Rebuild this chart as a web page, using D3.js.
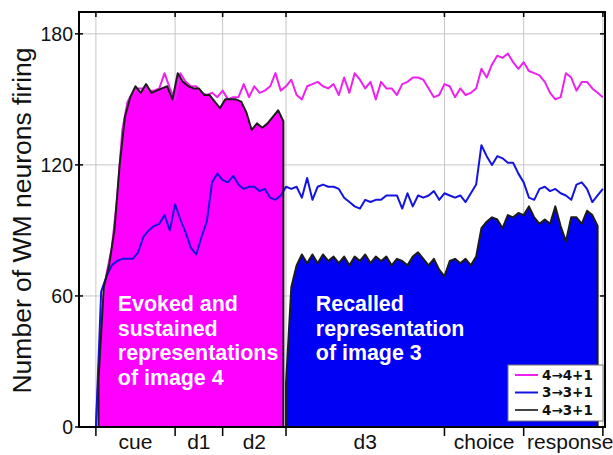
<!DOCTYPE html>
<html>
<head>
<meta charset="utf-8">
<script src="https://cdnjs.cloudflare.com/ajax/libs/d3/7.8.5/d3.min.js"></script>
<style>
  body { margin: 0; background: #fff; }
  svg { display: block; font-family: "Liberation Sans", Arial, Helvetica, sans-serif; }
  .grid line { stroke: #c6c6c6; stroke-width: 1; }
  .tick-mark { stroke: #000; stroke-width: 1.5; }
  .y-tick-label { font-size: 19.5px; fill: #111; }
  .phase-label { font-size: 21px; fill: #111; }
  .y-title { font-size: 26.5px; fill: #111; }
  .note { font-size: 21.4px; font-weight: bold; fill: #fff; }
  .legend-label { font-family: "DejaVu Sans", sans-serif; font-size: 13.5px; font-weight: bold; fill: #111; }
</style>
</head>
<body>
<div id="wrapper"></div>
<script>
// phases of the trial (time in samples)
const phaseNames = ["cue", "d1", "d2", "d3", "choice", "response"]
const phaseBounds = [0, 30, 48, 72, 132, 162, 192]
const yTickValues = [0, 60, 120, 180]
const sampleStep = 2

// 4 -> 4+1 and 3 -> 3+1, sampled from t = 0
const lineStart = 0
const line44 = [
  0, 50, 70, 82, 104, 136, 149, 153, 155, 155,
  154, 154, 155, 162, 155, 150, 162, 158, 156, 156,
  153, 152, 153, 151, 154, 150, 151, 151, 157, 151,
  156, 153, 154, 156, 162, 154, 156, 159, 152, 150,
  156, 157, 158, 156, 155, 157, 152, 160, 153, 162,
  159, 155, 158, 150, 158, 155, 155, 152, 157, 158,
  160, 160, 159, 155, 151, 152, 157, 156, 151, 155,
  152, 153, 155, 164, 160, 166, 170, 169, 171, 167,
  164, 167, 163, 162, 161, 158, 153, 150, 151, 162,
  160, 154, 158, 158, 155, 153, 151,
]
const line33 = [
  0, 62, 69, 74, 76, 77, 77, 77, 80, 87,
  90, 92, 93, 97, 90, 102, 95, 89, 82, 79,
  87, 94, 112, 116, 113, 112, 115, 111, 109, 110,
  110, 108, 109, 105, 104, 106, 110, 109, 110, 105,
  114, 104, 110, 111, 110, 110, 109, 105, 103, 101,
  100, 104, 103, 104, 104, 106, 106, 106, 100, 107,
  101, 106, 105, 106, 108, 104, 107, 106, 105, 106,
  103, 107, 111, 129, 124, 120, 124, 123, 121, 121,
  116, 112, 105, 104, 109, 110, 108, 109, 107, 106,
  104, 111, 112, 109, 103, 106, 109,
]

// 4 -> 3+1: evoked part (image 4) then recalled part (image 3)
const evokedStart = 1
const evoked43 = [
  22, 64, 74, 90, 120, 142, 151, 156, 153, 157,
  153, 154, 155, 156, 150, 162, 158, 156, 155, 155,
  152, 152, 149, 146, 150, 150, 150, 149, 144, 136,
  139, 137, 139, 142, 145, 140,
]
const recalledStart = 72
const recalled43 = [
  20, 64, 74, 79, 75, 79, 75, 79, 76, 78,
  75, 78, 74, 78, 76, 79, 75, 78, 76, 78,
  74, 77, 76, 74, 78, 80, 77, 74, 77, 72,
  69, 76, 77, 75, 77, 74, 78, 91, 94, 96,
  95, 91, 97, 96, 98, 97, 101, 96, 93, 95,
  93, 101, 92, 85, 96, 96, 93, 99, 97, 92,
]

const legendLabels = ["4\u21924+1", "3\u21923+1", "4\u21923+1"]
const evokedNote = ["Evoked and", "sustained", "representations", "of image 4"]
const recalledNote = ["Recalled", "representation", "of image 3"]

function drawChart() {
  let dimensions = {
    width: 613,
    height: 455,
    margin: {
      top: 12,
      right: 8,
      bottom: 28,
      left: 79,
    },
  }
  dimensions.boundedWidth = dimensions.width
    - dimensions.margin.left
    - dimensions.margin.right
  dimensions.boundedHeight = dimensions.height
    - dimensions.margin.top
    - dimensions.margin.bottom

  const colors = {
    magenta: "#ff00ff",
    magentaLine: "#ee22ee",
    blue: "#0000f4",
    blueLine: "#1414e0",
    outline: "#1c1c1c",
  }

  const toPoints = (values, start) => values.map((v, i) => ({ t: start + i * sampleStep, v }))
  const tAccessor = d => d.t
  const vAccessor = d => d.v

  const xScale = d3.scaleLinear()
    .domain([-6.4, 192.8])
    .range([0, dimensions.boundedWidth])
  const yScale = d3.scaleLinear()
    .domain([0, 190])
    .range([dimensions.boundedHeight, 0])

  const wrapper = d3.select("#wrapper")
    .append("svg")
      .attr("width", dimensions.width)
      .attr("height", dimensions.height)

  const bounds = wrapper.append("g")
      .attr("transform", `translate(${dimensions.margin.left},${dimensions.margin.top})`)

  // grid
  const grid = bounds.append("g").attr("class", "grid")
  grid.selectAll(".h")
    .data(yTickValues.filter(d => d > 0))
    .enter().append("line")
      .attr("x1", 0)
      .attr("x2", dimensions.boundedWidth)
      .attr("y1", d => yScale(d))
      .attr("y2", d => yScale(d))
  grid.selectAll(".v")
    .data(phaseBounds)
    .enter().append("line")
      .attr("x1", d => xScale(d))
      .attr("x2", d => xScale(d))
      .attr("y1", 0)
      .attr("y2", dimensions.boundedHeight)

  const evokedPoints = toPoints(evoked43, evokedStart)
  const recalledPoints = toPoints(recalled43, recalledStart)

  const areaGenerator = d3.area()
    .x(d => xScale(tAccessor(d)))
    .y0(yScale(0))
    .y1(d => yScale(vAccessor(d)))

  bounds.append("path")
      .attr("d", areaGenerator(evokedPoints))
      .attr("fill", colors.magenta)
  bounds.append("path")
      .attr("d", areaGenerator(recalledPoints))
      .attr("fill", colors.blue)

  const lineGenerator = d3.line()
    .x(d => xScale(tAccessor(d)))
    .y(d => yScale(vAccessor(d)))

  bounds.append("path")
      .attr("d", lineGenerator(toPoints(line44, lineStart)))
      .attr("fill", "none")
      .attr("stroke", colors.magentaLine)
      .attr("stroke-width", 2)
      .attr("stroke-linejoin", "round")
  bounds.append("path")
      .attr("d", lineGenerator(toPoints(line33, lineStart)))
      .attr("fill", "none")
      .attr("stroke", colors.blueLine)
      .attr("stroke-width", 2)
      .attr("stroke-linejoin", "round")

  // black outline of 4 -> 3+1
  ;[evokedPoints, recalledPoints].forEach(points => {
    bounds.append("path")
        .attr("d", areaGenerator(points))
        .attr("fill", "none")
        .attr("stroke", colors.outline)
        .attr("stroke-width", 2)
        .attr("stroke-linejoin", "round")
  })

  // notes inside the areas
  const addNote = (lines, t, v) => {
    const note = bounds.append("text")
        .attr("class", "note")
        .attr("x", xScale(t))
        .attr("y", yScale(v))
    note.selectAll("tspan")
      .data(lines)
      .enter().append("tspan")
        .attr("x", xScale(t))
        .attr("dy", (d, i) => i == 0 ? 0 : 24.5)
        .text(d => d)
  }
  addNote(evokedNote, 8.3, 53)
  addNote(recalledNote, 83.3, 53)

  // frame
  bounds.append("rect")
      .attr("width", dimensions.boundedWidth)
      .attr("height", dimensions.boundedHeight)
      .attr("fill", "none")
      .attr("stroke", "#000")
      .attr("stroke-width", 2)

  // ticks
  bounds.selectAll(".x-tick-bottom")
    .data(phaseBounds)
    .enter().append("line")
      .attr("class", "tick-mark")
      .attr("x1", d => xScale(d))
      .attr("x2", d => xScale(d))
      .attr("y1", dimensions.boundedHeight)
      .attr("y2", dimensions.boundedHeight + 9)
  bounds.selectAll(".x-tick-top")
    .data(phaseBounds)
    .enter().append("line")
      .attr("class", "tick-mark")
      .attr("x1", d => xScale(d))
      .attr("x2", d => xScale(d))
      .attr("y1", 0)
      .attr("y2", 5)
  bounds.selectAll(".y-tick-left")
    .data(yTickValues)
    .enter().append("line")
      .attr("class", "tick-mark")
      .attr("x1", -4)
      .attr("x2", 4)
      .attr("y1", d => yScale(d))
      .attr("y2", d => yScale(d))
  bounds.selectAll(".y-tick-right")
    .data(yTickValues)
    .enter().append("line")
      .attr("class", "tick-mark")
      .attr("x1", dimensions.boundedWidth - 5)
      .attr("x2", dimensions.boundedWidth)
      .attr("y1", d => yScale(d))
      .attr("y2", d => yScale(d))

  bounds.selectAll(".y-tick-label")
    .data(yTickValues)
    .enter().append("text")
      .attr("class", "y-tick-label")
      .attr("x", -6)
      .attr("y", d => yScale(d))
      .attr("dy", "0.35em")
      .attr("text-anchor", "end")
      .text(d => d)

  // last label runs past the frame, like the original
  bounds.selectAll(".phase-label")
    .data(phaseNames)
    .enter().append("text")
      .attr("class", "phase-label")
      .attr("x", (d, i) => xScale((phaseBounds[i] + phaseBounds[i + 1]) / 2))
      .attr("dx", (d, i) => i == phaseNames.length - 1 ? 7 : 0)
      .attr("y", dimensions.boundedHeight + 22)
      .attr("text-anchor", "middle")
      .text(d => d)

  wrapper.append("text")
      .attr("class", "y-title")
      .attr("transform", `translate(31, ${dimensions.margin.top + dimensions.boundedHeight / 2 + 1}) rotate(-90)`)
      .attr("text-anchor", "middle")
      .text("Number of WM neurons firing")

  // legend
  const legendColors = [colors.magentaLine, colors.blueLine, "#444"]
  const legendGroup = bounds.append("g")
      .attr("transform", `translate(${dimensions.boundedWidth - 97}, ${dimensions.boundedHeight - 62})`)
  legendGroup.append("rect")
      .attr("width", 95)
      .attr("height", 56)
      .attr("fill", "#fff")
      .attr("stroke", "#777")
      .attr("stroke-width", 1)
  const legendItems = legendGroup.selectAll(".legend-item")
    .data(legendLabels)
    .enter().append("g")
      .attr("transform", (d, i) => `translate(0, ${10 + i * 17.5})`)
  legendItems.append("line")
      .attr("x1", 7)
      .attr("x2", 30)
      .attr("stroke", (d, i) => legendColors[i])
      .attr("stroke-width", 2)
  legendItems.append("text")
      .attr("class", "legend-label")
      .attr("x", 34)
      .attr("dy", "0.35em")
      .text(d => d)
}
drawChart()
</script>
</body>
</html>
